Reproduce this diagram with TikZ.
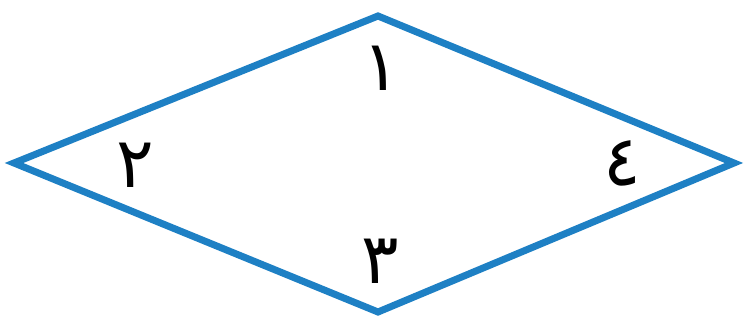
\documentclass[tikz,border=0pt]{standalone}
\usepackage{fontspec}
\newfontfamily\arabicfont[Script=Arabic]{DejaVu Sans}
\TeXXeTstate=1
\definecolor{rhblue}{RGB}{30,128,196}
\begin{document}
\begin{tikzpicture}[x=1pt,y=1pt,
  digit/.style={font=\arabicfont\fontsize{70}{70}\selectfont, inner sep=0pt, text=black}]
\useasboundingbox (0,0) rectangle (744,322);
\coordinate (T) at (378,306);
\coordinate (L) at (14,159);
\coordinate (B) at (378,10);
\coordinate (R) at (734,159);
\draw[rhblue, line width=7pt, line join=miter] (T) -- (L) -- (B) -- (R) -- cycle;
\node[digit] (d1) at (381,254) {\beginR ١\endR};
\node[digit] (d2) at (135,157) {\beginR ٢\endR};
\node[digit] (d3) at (380,61) {\beginR ٣\endR};
\node[digit] (d4) at (622,159) {\beginR ٤\endR};
\end{tikzpicture}
\end{document}
